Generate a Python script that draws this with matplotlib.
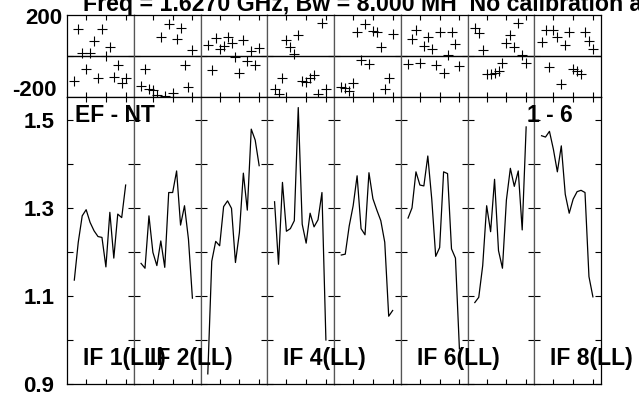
import matplotlib
matplotlib.use('Agg')
import matplotlib.pyplot as plt

plt.rcParams['font.family'] = ['Liberation Sans', 'DejaVu Sans']
plt.rcParams['font.weight'] = 'bold'

# ---------------- data ----------------
title = "Freq = 1.6270 GHz, Bw = 8.000 MH  No calibration applied"
baseline_label = "EF - NT"
time_label = "1 - 6"
if_labels = ["IF 1(LL)", "IF 2(LL)", "", "IF 4(LL)", "", "IF 6(LL)", "", "IF 8(LL)"]

times = [0, 1, 2, 3, 4, 5, 6, 7, 8, 9, 10, 11, 12, 13]

amp_if1 = [1.136, 1.222, 1.282, 1.296, 1.267, 1.248, 1.235, 1.233, 1.166, 1.290, 1.186, 1.286, 1.278, 1.352]
amp_if2 = [1.174, 1.163, 1.282, 1.199, 1.169, 1.225, 1.165, 1.335, 1.335, 1.384, 1.261, 1.305, 1.229, 1.095]
amp_if3 = [0.923, 1.179, 1.224, 1.214, 1.303, 1.316, 1.299, 1.176, 1.244, 1.379, 1.295, 1.479, 1.454, 1.396]
amp_if4 = [1.314, 1.172, 1.358, 1.247, 1.253, 1.271, 1.528, 1.263, 1.220, 1.288, 1.257, 1.273, 1.335, 1.000]
amp_if5 = [1.193, 1.195, 1.259, 1.305, 1.373, 1.253, 1.239, 1.380, 1.321, 1.295, 1.271, 1.222, 1.054, 1.067]
amp_if6 = [1.277, 1.300, 1.382, 1.352, 1.350, 1.418, 1.320, 1.190, 1.210, 1.382, 1.378, 1.207, 1.186, 0.980]
amp_if7 = [1.085, 1.097, 1.169, 1.305, 1.246, 1.365, 1.203, 1.163, 1.318, 1.390, 1.349, 1.384, 1.250, 1.484]
amp_if8 = [1.464, 1.461, 1.474, 1.433, 1.382, 1.441, 1.331, 1.288, 1.320, 1.337, 1.340, 1.335, 1.144, 1.098]

phase_if1 = [-122, 134, 16, -64, 13, 75, -109, 131, -2, 46, -104, -45, -133, -109]
phase_if2 = [-144, -64, -160, -165, -190, 94, -195, 155, -181, 83, 136, -45, -149, 27]
phase_if3 = [54, -66, 88, 35, 51, 94, 64, -5, -82, 80, -26, 24, -45, 40]
phase_if4 = [-160, -185, -109, 80, 46, 11, 102, -122, -128, -109, -93, -185, 163, -160]
phase_if5 = [-149, -157, -170, -133, 118, -21, 158, -40, 123, 115, 46, -162, -109, 107]
phase_if6 = [-40, 83, 128, -32, 48, 91, 32, -45, 118, -82, 6, 118, 59, -48]
phase_if7 = [139, 112, 30, -90, -90, -85, -74, -32, 64, 102, 43, 160, 6, -32]
phase_if8 = [70, 126, -53, 126, 91, -138, 56, 118, -61, -74, -90, 115, 75, 35]

amps = [amp_if1, amp_if2, amp_if3, amp_if4, amp_if5, amp_if6, amp_if7, amp_if8]
phases = [phase_if1, phase_if2, phase_if3, phase_if4, phase_if5, phase_if6, phase_if7, phase_if8]

amp_ticks = [0.9, 1.0, 1.1, 1.2, 1.3, 1.4, 1.5]
amp_tick_labels = ["0.9", "", "1.1", "", "1.3", "", "1.5"]
phase_top_label = "200"
phase_bottom_label = "-200"

# ---------------- layout ----------------
W, H = 639, 396
def fx(x):
    return x / W
def fy(y):
    return 1 - y / H

fig = plt.figure(figsize=(W / 100, H / 100), dpi=100)
gs = fig.add_gridspec(2, 8, left=fx(67), right=fx(601), top=fy(15), bottom=fy(384),
                      height_ratios=[82, 287], hspace=0, wspace=0)

ncol = len(amps)
for i in range(ncol):
    axp = fig.add_subplot(gs[0, i])
    axa = fig.add_subplot(gs[1, i])
    axp.plot(times, phases[i], '+', color='black', ms=6.5, mew=0.8, clip_on=False)
    axp.axhline(0, color='black', lw=1.0)
    axp.set_ylim(-200, 200)
    axp.set_yticks([0])
    axa.plot(times, amps[i], color='black', lw=0.9)
    axa.set_ylim(0.9, 1.552)
    axa.set_yticks(amp_ticks)
    for ax in (axp, axa):
        ax.set_xlim(-1.85, 15.05)
        ax.set_xticks([3, 8, 13])
        ax.tick_params(axis='x', direction='in', top=True, bottom=True, length=3.5,
                       width=0.8, labelbottom=False)
        ax.tick_params(axis='y', direction='in', left=True, right=True, length=4,
                       width=0.8, labelleft=False)
        for name, s in ax.spines.items():
            s.set_linewidth(0.9)
            s.set_color('black')
        if i > 0:
            ax.spines['left'].set_color('#555555')
        if i < ncol - 1:
            ax.spines['right'].set_color('#555555')
    if i == 0:
        axa.set_yticklabels(amp_tick_labels)
        axa.tick_params(axis='y', labelleft=True, labelsize=16, pad=9)

# phase labels
fig.text(fx(62), fy(18), phase_top_label, ha='right', va='center', fontsize=16)
fig.text(fx(57), fy(90), phase_bottom_label, ha='right', va='center', fontsize=16)

# title (partly cut at top)
fig.text(fx(83), fy(10.5), title, ha='left', va='baseline', fontsize=16.7)

# baseline / time labels
fig.text(fx(75), fy(115), baseline_label, ha='left', va='center', fontsize=16.5)
fig.text(fx(573), fy(115), time_label, ha='right', va='center', fontsize=16.5)

colw = (601 - 67) / 8
for i, lab in enumerate(if_labels):
    if lab:
        fig.text(fx(67 + i * colw + 16), fy(358), lab, ha='left', va='center', fontsize=16.5)

fig.savefig('out.png', dpi=100)
